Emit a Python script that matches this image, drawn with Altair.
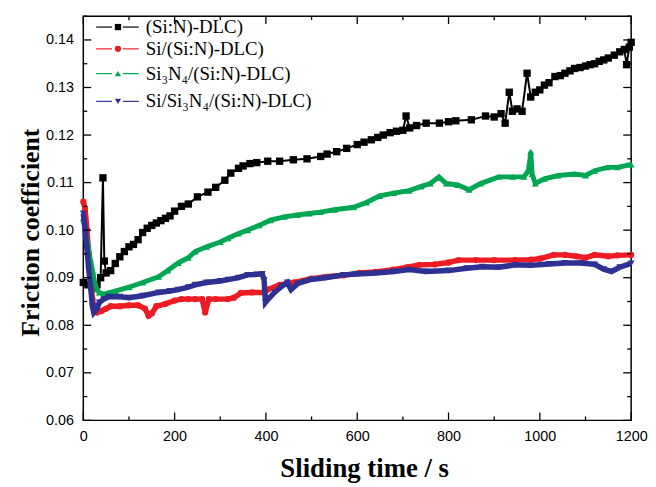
import altair as alt
import pandas as pd

series_names = ["(Si:N)-DLC)", "Si/(Si:N)-DLC)", "Si\u2083N\u2084/(Si:N)-DLC)", "Si/Si\u2083N\u2084/(Si:N)-DLC)"]
colors = ["#000000", "#ED1C24", "#00A651", "#2E3192"]
shapes = ["square", "circle", "triangle-up", "triangle-down"]

# (time s, friction coefficient)
black = [(0, 0.0890), (10, 0.0885), (20, 0.0880), (30, 0.0885), (38, 0.0900), (43, 0.1110), (46, 0.0935),
         (50, 0.0910), (60, 0.0915), (70, 0.0930), (80, 0.0944), (90, 0.0955), (100, 0.0965), (110, 0.0970),
         (120, 0.0980), (130, 0.0995), (140, 0.1004), (150, 0.1010), (160, 0.1015), (170, 0.1020),
         (180, 0.1025), (190, 0.1030), (200, 0.1040), (215, 0.1050), (230, 0.1055), (250, 0.1070),
         (273, 0.1080), (290, 0.1090), (310, 0.1105), (323, 0.1120), (340, 0.1130), (350, 0.1135),
         (365, 0.1140), (380, 0.1142), (404, 0.1145), (430, 0.1145), (460, 0.1148), (490, 0.1150),
         (520, 0.1155), (534, 0.1160), (555, 0.1165), (577, 0.1172), (600, 0.1180), (615, 0.1185),
         (631, 0.1190), (645, 0.1195), (657, 0.1200), (672, 0.1205), (686, 0.1208), (700, 0.1210),
         (707, 0.1240), (715, 0.1215), (730, 0.1220), (751, 0.1225), (780, 0.1225), (800, 0.1228),
         (816, 0.1230), (850, 0.1232), (881, 0.1240), (900, 0.1238), (915, 0.1245), (924, 0.1225),
         (933, 0.1290), (940, 0.1250), (950, 0.1255), (961, 0.1250), (972, 0.1330), (980, 0.1280),
         (990, 0.1290), (1000, 0.1295), (1010, 0.1305), (1020, 0.1310), (1033, 0.1323), (1045, 0.1325),
         (1055, 0.1330), (1066, 0.1335), (1076, 0.1340), (1088, 0.1342), (1100, 0.1345), (1110, 0.1348),
         (1120, 0.1350), (1130, 0.1355), (1140, 0.1358), (1150, 0.1362), (1163, 0.1368), (1175, 0.1375),
         (1185, 0.1380), (1190, 0.1348), (1196, 0.1385), (1200, 0.1395)]

red = [(0, 0.1060), (4, 0.1045), (8, 0.1000), (12, 0.0950), (16, 0.0900), (20, 0.0855), (25, 0.0830),
       (30, 0.0827), (40, 0.0830), (50, 0.0835), (60, 0.0840), (80, 0.0840), (100, 0.0842), (120, 0.0842),
       (135, 0.0835), (143, 0.0820), (150, 0.0825), (160, 0.0840), (180, 0.0845), (200, 0.0852),
       (215, 0.0855), (230, 0.0855), (245, 0.0855), (260, 0.0855), (267, 0.0827), (275, 0.0855),
       (290, 0.0855), (317, 0.0855), (330, 0.0858), (345, 0.0868), (370, 0.0869), (397, 0.0869),
       (404, 0.0875), (430, 0.0885), (462, 0.0890), (500, 0.0898), (534, 0.0902), (570, 0.0905),
       (605, 0.0910), (640, 0.0912), (679, 0.0917), (710, 0.0922), (736, 0.0927), (770, 0.0928),
       (800, 0.0932), (822, 0.0937), (860, 0.0937), (900, 0.0937), (946, 0.0937), (980, 0.0938),
       (1000, 0.0940), (1030, 0.0948), (1055, 0.0948), (1080, 0.0945), (1100, 0.0942), (1120, 0.0948),
       (1150, 0.0945), (1170, 0.0947), (1200, 0.0948)]

green = [(0, 0.1025), (5, 0.0995), (10, 0.0970), (15, 0.0940), (20, 0.0915), (25, 0.0890), (30, 0.0875),
         (35, 0.0869), (45, 0.0865), (55, 0.0868), (70, 0.0872), (100, 0.0880), (130, 0.0890), (165, 0.0902),
         (185, 0.0915), (208, 0.0931), (230, 0.0942), (245, 0.0955), (270, 0.0965), (300, 0.0975),
         (317, 0.0983), (340, 0.0993), (360, 0.1000), (385, 0.1010), (410, 0.1021), (440, 0.1028),
         (469, 0.1032), (495, 0.1035), (519, 0.1038), (550, 0.1043), (592, 0.1048), (620, 0.1058),
         (649, 0.1072), (680, 0.1078), (714, 0.1083), (740, 0.1092), (760, 0.1098), (779, 0.1112),
         (795, 0.1098), (820, 0.1095), (845, 0.1085), (870, 0.1098), (910, 0.1112), (940, 0.1112),
         (965, 0.1112), (975, 0.1125), (978, 0.1145), (980, 0.1165), (983, 0.1118), (990, 0.1098),
         (1010, 0.1108), (1040, 0.1115), (1076, 0.1118), (1100, 0.1115), (1120, 0.1125), (1148, 0.1132),
         (1170, 0.1132), (1200, 0.1138)]

blue = [(0, 0.1035), (4, 0.1000), (8, 0.0960), (12, 0.0917), (16, 0.0880), (20, 0.0840), (23, 0.0827),
        (30, 0.0835), (35, 0.0848), (45, 0.0855), (56, 0.0860), (80, 0.0860), (100, 0.0858), (130, 0.0862),
        (165, 0.0869), (190, 0.0872), (208, 0.0875), (230, 0.0880), (245, 0.0885), (270, 0.0890),
        (300, 0.0893), (317, 0.0896), (340, 0.0900), (360, 0.0906), (380, 0.0907), (392, 0.0908),
        (396, 0.0895), (399, 0.0848), (405, 0.0855), (419, 0.0869), (435, 0.0882), (447, 0.0890),
        (455, 0.0875), (470, 0.0888), (497, 0.0896), (530, 0.0900), (570, 0.0906), (600, 0.0908),
        (642, 0.0910), (680, 0.0913), (714, 0.0917), (750, 0.0913), (800, 0.0915), (840, 0.0920),
        (874, 0.0923), (910, 0.0922), (946, 0.0927), (980, 0.0926), (1020, 0.0929), (1055, 0.0931),
        (1090, 0.0931), (1120, 0.0928), (1140, 0.0918), (1157, 0.0913), (1175, 0.0922), (1200, 0.0930)]

x_major = [0, 200, 400, 600, 800, 1000, 1200]
x_minor = [100, 300, 500, 700, 900, 1100]
y_major = [0.06, 0.07, 0.08, 0.09, 0.10, 0.11, 0.12, 0.13, 0.14]
y_minor = [0.065, 0.075, 0.085, 0.095, 0.105, 0.115, 0.125, 0.135, 0.145]

W, H = 553, 408
xs = alt.Scale(domain=[0, 1200], nice=False, zero=False)
ys = alt.Scale(domain=[0.06, 0.145], nice=False, zero=False)

AX = alt.Axis(values=x_major, format="d", title="Sliding time / s", grid=False, domain=False, ticks=False,
              tickSize=0, labelPadding=9, labelFlush=False, labelOverlap=False, titleX=W / 2 + 7, titleY=57,
              titleAlign="center", titleBaseline="alphabetic", titleFontSize=27)
AY = alt.Axis(values=y_major, format=".2f", title="Friction coefficient", grid=False, domain=False,
              ticks=False, tickSize=0, labelPadding=10, labelFlush=False, labelOverlap=False,
              titleX=-53, titleY=218, titleAngle=-90, titleAlign="center", titleBaseline="middle",
              titleFontSize=26)


def X(field):
    return alt.X(field, type="quantitative", scale=xs, axis=AX)


def Y(field):
    return alt.Y(field, type="quantitative", scale=ys, axis=AY)


layers = []

line_widths = [2.0, 5.5, 5.0, 5.5]
point_sizes = [55, 40, 48, 48]
for data, col, shp, lw, sz in zip([black, red, green, blue], colors, shapes, line_widths, point_sizes):
    df = pd.DataFrame(data, columns=["t", "v"])
    base = alt.Chart(df)
    layers.append(base.mark_line(color=col, strokeWidth=lw).encode(x=X("t"), y=Y("v")))
    layers.append(base.mark_point(shape=shp, color=col, filled=True, size=sz, opacity=1).encode(
        x=X("t"), y=Y("v")))

# inward ticks on all four sides
for vals, length in [(x_major, 8), (x_minor, 4)]:
    d = alt.Chart(pd.DataFrame({"t": vals}))
    layers.append(d.mark_rule(color="black", strokeWidth=1.3).encode(
        x=X("t"), y=alt.value(H), y2=alt.value(H - length)))
    layers.append(d.mark_rule(color="black", strokeWidth=1.3).encode(
        x=X("t"), y=alt.value(0), y2=alt.value(length)))
for vals, length in [(y_major, 8), (y_minor, 4)]:
    d = alt.Chart(pd.DataFrame({"v": vals}))
    layers.append(d.mark_rule(color="black", strokeWidth=1.3).encode(
        y=Y("v"), x=alt.value(0), x2=alt.value(length)))
    layers.append(d.mark_rule(color="black", strokeWidth=1.3).encode(
        y=Y("v"), x=alt.value(W), x2=alt.value(W - length)))

# legend
legend_y = [11, 33, 58, 86]
for name, col, shp, ly in zip(series_names, colors, shapes, legend_y):
    one = alt.Chart(pd.DataFrame({"k": [0]}))
    layers.append(one.mark_rule(color=col, strokeWidth=1.2).encode(
        x=alt.value(13), x2=alt.value(29), y=alt.value(ly)))
    layers.append(one.mark_rule(color=col, strokeWidth=1.2).encode(
        x=alt.value(40), x2=alt.value(56), y=alt.value(ly)))
    layers.append(one.mark_point(shape=shp, color=col, filled=True, size=40, opacity=1).encode(
        x=alt.value(35), y=alt.value(ly)))
    layers.append(one.mark_text(text=name, align="left", baseline="middle", font="Liberation Serif",
                                fontSize=19, color="black").encode(
        x=alt.value(63), y=alt.value(ly)))

chart = alt.layer(*layers).properties(
    width=W, height=H,
    autosize=alt.AutoSizeParams(type="none"),
    padding={"left": 76, "top": 6, "right": 17, "bottom": 64},
).configure_view(stroke="black", strokeWidth=1.5).configure_axis(
    labelFont="Liberation Sans", labelFontSize=14.5, labelColor="black",
    titleFont="Liberation Serif", titleFontWeight="bold", titleColor="black",
)

chart.save("out.html", embed_options={"renderer": "svg", "actions": False})
